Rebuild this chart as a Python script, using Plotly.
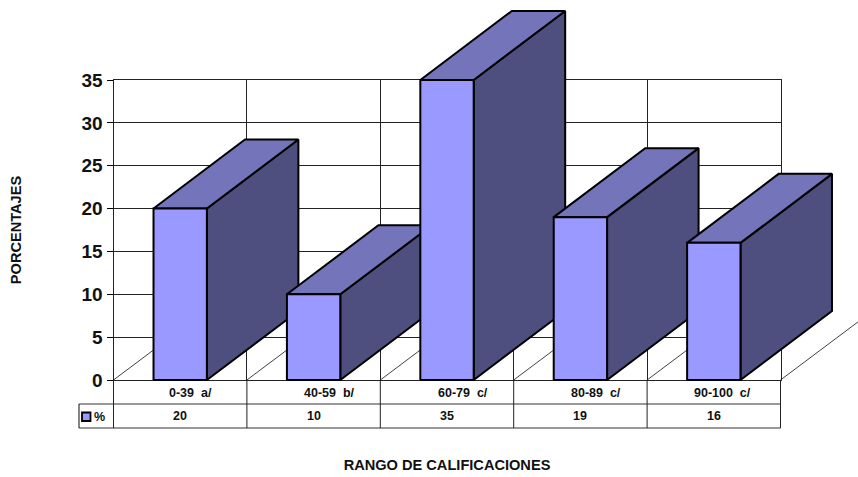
import plotly.graph_objects as go

categories = ["0-39\u00a0\u00a0a/", "40-59\u00a0\u00a0b/", "60-79\u00a0\u00a0c/", "80-89\u00a0\u00a0c/", "90-100\u00a0\u00a0c/"]
values = [20, 10, 35, 19, 16]
y_ticks = [0, 5, 10, 15, 20, 25, 30, 35]
series_name = "%"
x_title = "RANGO DE CALIFICACIONES"
y_title = "PORCENTAJES"

FRONT, TOP, SIDE = "#9999FF", "#7474BB", "#4E4E7F"
FONT = "Liberation Sans, Arial, sans-serif"
TXT = "#111111"
L, R, T, B = 113.5, 780.5, 80, 380
W, H = 858, 477
px_x = (R - L) / len(values)
px_y = (B - T) / 35
BAR_HALF = 0.2
DX = 91.5 / px_x
DY = 69 / px_y
LABEL_SHIFT = [-13.5, -12, -11.5, -11.5, -22]


def xpx(p):
    return (p - L) / px_x - 0.5


def ypx(p):
    return (B - p) / px_y


fig = go.Figure()

# empty trace that brings up the axes carrying ticks, grid and titles
fig.add_trace(go.Scatter(x=[0], y=[0], mode="none", hoverinfo="skip", showlegend=False))


def poly(xs, ys, fill=None, width=1.0, color="black"):
    fig.add_trace(go.Scatter(
        x=xs, y=ys, xaxis="x2", yaxis="y2", mode="lines", hoverinfo="skip", showlegend=False,
        line=dict(color=color, width=width),
        fill="toself" if fill else "none", fillcolor=fill,
    ))


edges = [i - 0.5 for i in range(len(values) + 1)]

# floor diagonals
for e in edges:
    poly([e, e + 1.0], [0, 100 / px_y], width=0.8, color="#111111")

# table rules
row1, row2 = ypx(404), ypx(428)
poly([xpx(79), edges[-1]], [row1, row1], color="#333333")
poly([xpx(79), edges[-1]], [row2, row2], color="#333333", width=1.2)
poly([xpx(79), xpx(79)], [row1, row2], color="#333333", width=1.2)
for e in edges:
    poly([e, e], [0, row2], color="#222222")

# bars, back to front along the category order
for i, v in enumerate(values):
    x0, x1 = i - BAR_HALF, i + BAR_HALF
    poly([x1, x1 + DX, x1 + DX, x1, x1], [0, DY, v + DY, v, 0], fill=SIDE, width=2)
    poly([x0, x0 + DX, x1 + DX, x1, x0], [v, v + DY, v + DY, v, v], fill=TOP, width=2)
    poly([x0, x1, x1, x0, x0], [0, 0, v, v, 0], fill=FRONT, width=2)

lab = dict(family=FONT, size=12.5, color=TXT, weight=700)
annotations = []
for i, (c, v) in enumerate(zip(categories, values)):
    annotations.append(dict(xref="x2", yref="y2", x=i, y=ypx(393), text=c, showarrow=False, xanchor="left",
                            xshift=LABEL_SHIFT[i], font=lab))
    annotations.append(dict(xref="x2", yref="y2", x=i, y=ypx(416), text=str(v), showarrow=False, font=lab))
annotations.append(dict(xref="x2", yref="y2", x=xpx(91.5), y=ypx(417), text=series_name, showarrow=False,
                        xanchor="left", font=lab))

shapes = [dict(type="rect", xref="x2", yref="y2", x0=xpx(82), x1=xpx(90.5), y0=ypx(421), y1=ypx(412.5),
               fillcolor=FRONT, line=dict(color="black", width=1.8))]

fig.update_layout(
    width=W, height=H, showlegend=False, paper_bgcolor="white", plot_bgcolor="rgba(0,0,0,0)",
    margin=dict(l=0, r=0, t=0, b=0),
    font=dict(family=FONT, color=TXT),
    annotations=annotations, shapes=shapes,
    xaxis=dict(domain=[L / W, R / W], range=[edges[0], edges[-1]], tickvals=edges, showticklabels=False, ticks="",
               showgrid=True, gridcolor="#222222", gridwidth=1, zeroline=False, automargin=False,
               showline=True, linecolor="#222222", linewidth=1, anchor="y", mirror=True,
               title=dict(text=x_title, standoff=79, font=dict(family=FONT, size=14.6, weight=700))),
    yaxis=dict(domain=[(H - B) / H, (H - T) / H], range=[0, 35], tickvals=y_ticks, automargin=False,
               ticks="outside", ticklen=6, tickcolor="black", tickwidth=1,
               showgrid=True, gridcolor="#222222", gridwidth=1, zeroline=False,
               showline=True, linecolor="#222222", linewidth=1, anchor="x", mirror=True,
               tickfont=dict(family=FONT, size=19, color=TXT, weight=700),
               title=dict(text=y_title, standoff=56, font=dict(family=FONT, size=14.6, weight=700))),
    # hidden full-page axes on the same scale: bars and table may run past the plot frame
    xaxis2=dict(domain=[0, 1], range=[xpx(0), xpx(W)], visible=False, anchor="y2", automargin=False),
    yaxis2=dict(domain=[0, 1], range=[ypx(H), ypx(0)], visible=False, anchor="x2", automargin=False),
)

fig.write_html("out.html", post_script="document.body.style.margin='0';",
               config={"displayModeBar": False})
